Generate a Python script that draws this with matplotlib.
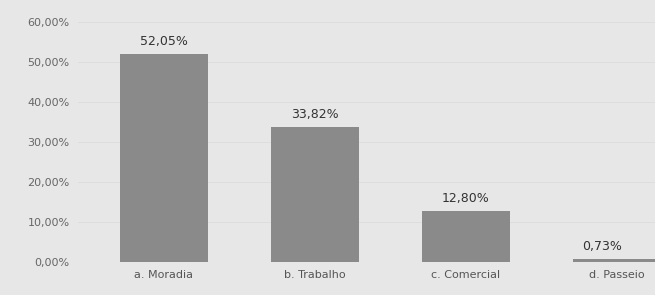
import matplotlib
matplotlib.use("Agg")
import matplotlib.pyplot as plt

categories = ["a. Moradia", "b. Trabalho", "c. Comercial", "d. Passeio"]
values = [52.05, 33.82, 12.80, 0.73]
value_labels = ["52,05%", "33,82%", "12,80%", "0,73%"]
yticks = [0, 10, 20, 30, 40, 50, 60]
ytick_labels = ["0,00%", "10,00%", "20,00%", "30,00%", "40,00%", "50,00%", "60,00%"]

bg = "#e7e7e7"
fig = plt.figure(figsize=(6.55, 2.95), dpi=100, facecolor=bg)
ax = fig.add_axes([78/655, 33/295, 1 - 78/655, (262 - 22)/295])
ax.set_facecolor(bg)

x = list(range(len(categories)))
ax.bar(x, values, width=0.58, color="#8a8a8a", edgecolor="none")
for xi, v, lab in zip(x, values, value_labels):
    dx = -0.1 if xi == 3 else 0
    ax.text(xi + dx, v + 1.5, lab, ha="center", va="bottom", fontsize=9, color="#333333")

ax.set_xlim(-(164 - 78)/151, 3 + (655 - 617)/151)
ax.set_ylim(0, 60)
ax.set_yticks(yticks)
ax.set_yticklabels(ytick_labels, fontsize=8, color="#666666")
ax.set_xticks(x)
ax.set_xticklabels(categories, fontsize=8, color="#555555")
ax.tick_params(length=0, pad=6)
ax.tick_params(axis="x", pad=6)
for s in ax.spines.values():
    s.set_visible(False)
ax.yaxis.grid(True, color="#dcdcdc", linewidth=0.6)
ax.set_axisbelow(True)

fig.savefig("out.png", dpi=100, facecolor=bg)
